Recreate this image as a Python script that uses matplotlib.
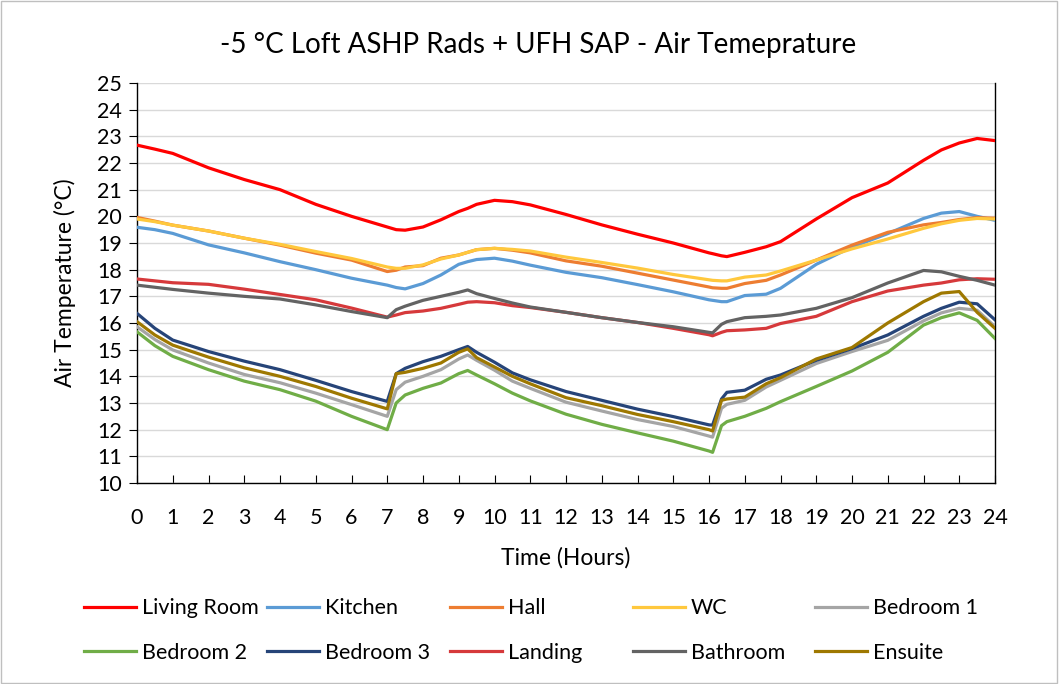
import matplotlib.pyplot as plt
from matplotlib.patches import Rectangle

plt.rcParams['font.family'] = ['Lato', 'DejaVu Sans']

hours = [0, 0.5, 1, 2, 3, 4, 5, 6, 7, 7.25, 7.5, 8, 8.5, 9, 9.25, 9.5, 10, 10.5, 11,
         12, 13, 14, 15, 16, 16.1, 16.35, 16.5, 17, 17.6, 18, 19, 20, 21, 22, 22.5,
         23, 23.5, 24]

living_room = [22.67, 22.52, 22.36, 21.82, 21.38, 21.0, 20.45, 20.0, 19.6, 19.5, 19.48,
               19.6, 19.87, 20.18, 20.3, 20.45, 20.6, 20.55, 20.43, 20.07, 19.68, 19.33,
               19.0, 18.63, 18.6, 18.52, 18.49, 18.65, 18.86, 19.05, 19.9, 20.7, 21.25,
               22.1, 22.49, 22.75, 22.92, 22.84]
kitchen = [19.59, 19.5, 19.36, 18.93, 18.63, 18.3, 18.0, 17.68, 17.42, 17.33, 17.28,
           17.48, 17.8, 18.2, 18.3, 18.38, 18.43, 18.32, 18.17, 17.9, 17.7, 17.44, 17.17,
           16.87, 16.85, 16.8, 16.8, 17.03, 17.08, 17.3, 18.2, 18.85, 19.35, 19.92, 20.12,
           20.18, 20.0, 19.85]
hall = [19.96, 19.82, 19.67, 19.45, 19.18, 18.92, 18.62, 18.36, 17.93, 17.98, 18.1,
        18.15, 18.43, 18.55, 18.65, 18.75, 18.8, 18.73, 18.63, 18.33, 18.13, 17.87, 17.61,
        17.35, 17.32, 17.3, 17.3, 17.48, 17.6, 17.8, 18.36, 18.92, 19.4, 19.68, 19.77,
        19.88, 19.95, 19.93]
wc = [19.9, 19.8, 19.67, 19.45, 19.18, 18.95, 18.68, 18.42, 18.1, 18.05, 18.05, 18.18,
      18.4, 18.55, 18.65, 18.75, 18.8, 18.76, 18.7, 18.47, 18.27, 18.06, 17.82, 17.62,
      17.6, 17.58, 17.58, 17.72, 17.8, 17.95, 18.36, 18.78, 19.15, 19.55, 19.72, 19.85,
      19.92, 19.9]
bedroom_1 = [15.86, 15.38, 14.99, 14.5, 14.07, 13.76, 13.37, 12.94, 12.5, 13.5, 13.78,
             14.0, 14.25, 14.65, 14.8, 14.6, 14.23, 13.82, 13.55, 13.03, 12.7, 12.38,
             12.12, 11.76, 11.72, 12.8, 12.95, 13.1, 13.6, 13.85, 14.48, 14.93, 15.35,
             16.08, 16.38, 16.55, 16.48, 15.86]
bedroom_2 = [15.67, 15.15, 14.75, 14.25, 13.82, 13.5, 13.07, 12.5, 12.0, 13.0, 13.3,
             13.55, 13.75, 14.1, 14.22, 14.05, 13.72, 13.37, 13.08, 12.58, 12.2, 11.88,
             11.57, 11.2, 11.15, 12.15, 12.3, 12.5, 12.8, 13.05, 13.62, 14.2, 14.9, 15.92,
             16.2, 16.38, 16.1, 15.42]
bedroom_3 = [16.36, 15.8, 15.36, 14.93, 14.57, 14.25, 13.85, 13.43, 13.06, 14.1, 14.3,
             14.55, 14.75, 15.0, 15.12, 14.9, 14.53, 14.13, 13.87, 13.43, 13.1, 12.77,
             12.49, 12.18, 12.17, 13.15, 13.4, 13.48, 13.89, 14.05, 14.6, 15.04, 15.55,
             16.25, 16.55, 16.78, 16.72, 16.12]
landing = [17.65, 17.58, 17.51, 17.45, 17.27, 17.07, 16.87, 16.56, 16.22, 16.3, 16.39,
           16.45, 16.55, 16.7, 16.78, 16.8, 16.76, 16.65, 16.58, 16.4, 16.2, 16.02, 15.8,
           15.56, 15.52, 15.65, 15.71, 15.74, 15.8, 15.98, 16.25, 16.8, 17.2, 17.42, 17.5,
           17.62, 17.66, 17.64]
bathroom = [17.42, 17.34, 17.26, 17.12, 17.0, 16.9, 16.68, 16.43, 16.2, 16.5, 16.63,
            16.85, 17.0, 17.15, 17.24, 17.1, 16.92, 16.75, 16.6, 16.4, 16.2, 16.02, 15.86,
            15.65, 15.63, 15.95, 16.05, 16.2, 16.25, 16.3, 16.55, 16.95, 17.5, 17.97, 17.92,
            17.75, 17.6, 17.42]
ensuite = [16.05, 15.55, 15.17, 14.72, 14.32, 14.0, 13.62, 13.18, 12.78, 14.1, 14.15,
           14.3, 14.5, 14.9, 15.03, 14.7, 14.35, 14.0, 13.72, 13.2, 12.9, 12.57, 12.3,
           12.0, 11.95, 13.1, 13.15, 13.22, 13.72, 13.95, 14.65, 15.08, 16.0, 16.8, 17.12,
           17.18, 16.4, 15.8]

names = ['Living Room', 'Kitchen', 'Hall', 'WC', 'Bedroom 1',
         'Bedroom 2', 'Bedroom 3', 'Landing', 'Bathroom', 'Ensuite']
series = [living_room, kitchen, hall, wc, bedroom_1,
          bedroom_2, bedroom_3, landing, bathroom, ensuite]
colors = ['#FF0000', '#5B9BD5', '#ED7D31', '#FFC83D', '#A5A5A5',
          '#70AD47', '#264478', '#D6393B', '#636363', '#9E7800']

fig = plt.figure(figsize=(10.59, 6.84), dpi=100)
ax = fig.add_axes([137 / 1059, 1 - 483 / 684, 858 / 1059, 400 / 684])

lines = []
for name, vals, col in zip(names, series, colors):
    ln, = ax.plot(hours, vals, color=col, lw=2.3, label=name, zorder=3)
    lines.append(ln)

ax.set_xlim(0, 24)
ax.set_ylim(10, 25)
ax.set_xticks(range(0, 25))
ax.set_yticks(range(10, 26))
ax.grid(axis='y', color='#D9D9D9', lw=1)
ax.set_axisbelow(True)
ax.tick_params(axis='x', direction='in', length=6, labelsize=15.5, pad=18)
ax.tick_params(axis='y', direction='out', length=6, labelsize=15.5, pad=5)
ax.spines['top'].set_visible(False)
for s in ['left', 'bottom', 'right']:
    ax.spines[s].set_color('black')
    ax.spines[s].set_linewidth(1)

ax.set_xlabel('Time (Hours)', fontsize=16.5)
ax.set_ylabel('Air Temperature (°C)', fontsize=16.5)
ax.xaxis.set_label_coords(0.5, (483 - 547) / 400)
ax.yaxis.set_label_coords((76 - 137) / 858, 0.5)
fig.text(538 / 1059, 1 - 45 / 684, '-5 °C Loft ASHP Rads + UFH SAP - Air Temeprature',
         ha='center', va='center', fontsize=20)

# legend: 5 columns of 2 entries, evenly spaced like the original
col_x = [84, 267, 450, 633, 815]
for i, x in enumerate(col_x):
    fig.legend([lines[i], lines[i + 5]], [names[i], names[i + 5]],
               loc='center left', bbox_to_anchor=(x / 1059, 1 - 630.5 / 684),
               frameon=False, fontsize=15.5, handlelength=2.4, handletextpad=0.3,
               borderpad=0, borderaxespad=0, labelspacing=1.15)

fig.patches.append(Rectangle((0.001, 0.002), 0.997, 0.996, transform=fig.transFigure,
                             fill=False, edgecolor='#BFBFBF', lw=1))

fig.savefig('out.png', dpi=100)
